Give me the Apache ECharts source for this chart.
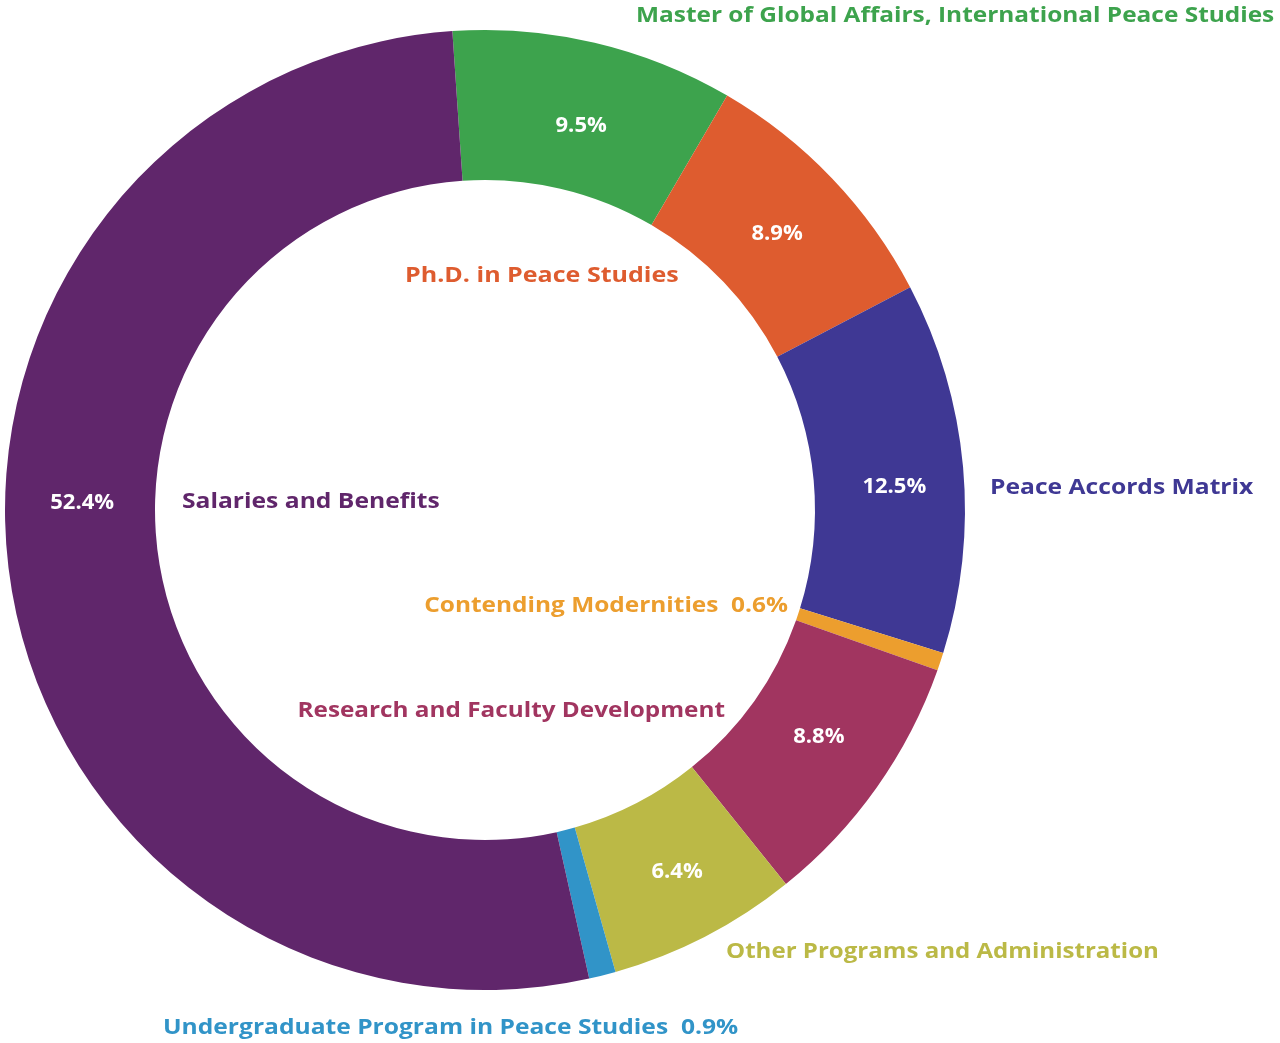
<!DOCTYPE html>
<html>
<head>
<meta charset="utf-8">
<style>
  html, body { margin: 0; padding: 0; background: #fff; }
  #chart { width: 1280px; height: 1043px; }
</style>
<script src="https://cdn.jsdelivr.net/npm/echarts@6/dist/echarts.min.js"></script>
</head>
<body>
<div id="chart"></div>
<script>
// budget shares, clockwise from the top
const categories = [
  'Master of Global Affairs, International Peace Studies',
  'Ph.D. in Peace Studies',
  'Peace Accords Matrix',
  'Contending Modernities',
  'Research and Faculty Development',
  'Other Programs and Administration',
  'Undergraduate Program in Peace Studies',
  'Salaries and Benefits'
];
const shares = [9.5, 8.9, 12.5, 0.6, 8.8, 6.4, 0.9, 52.4];
const colors = ['#3da34d', '#de5c2f', '#3f3894', '#ec9e2e', '#a13560', '#bbb946', '#3194c8', '#60266b'];

// slices too thin to carry their own percentage
const smallSlices = [3, 6];

const FONT = '"Open Sans"';

// nudges for the percentages inside the ring (hand placed in the original)
const pctNudge = [[3, 13], [-3, 6], [3, 13], [0, 0], [1, -9], [5, -1], [0, 0], [1, -66]];

// name labels placed freely around the ring; sx stretches to the original lettering
const nameLabels = [
  { i: 0, x: 636, y: 16, align: 'left', sx: 1.11, text: categories[0] },
  { i: 1, x: 405, y: 276, align: 'left', sx: 1.138, text: categories[1] },
  { i: 2, x: 990, y: 488, align: 'left', sx: 1.12, text: categories[2] },
  { i: 3, x: 788, y: 606, align: 'right', sx: 1.11, text: categories[3] + '  ' + shares[3] + '%' },
  { i: 4, x: 725, y: 711, align: 'right', sx: 1.105, text: categories[4] },
  { i: 5, x: 726, y: 952, align: 'left', sx: 1.094, text: categories[5] },
  { i: 6, x: 163, y: 1028, align: 'left', sx: 1.118, text: categories[6] + '  ' + shares[6] + '%' },
  { i: 7, x: 182, y: 502, align: 'left', sx: 1.12, text: categories[7] }
];

const chart = echarts.init(document.getElementById('chart'));

chart.setOption({
  animation: false,
  series: [
    {
      type: 'pie',
      center: [485, 510],
      radius: [330, 480],
      startAngle: 93.9,
      clockwise: true,
      avoidLabelOverlap: false,
      itemStyle: { borderWidth: 0 },
      emphasis: { disabled: true },
      label: {
        show: true,
        position: 'inside',
        color: '#fff',
        fontFamily: FONT,
        fontWeight: 'bold',
        fontSize: 22,
        formatter: p => p.value.toFixed(1) + '%'
      },
      labelLine: { show: false },
      labelLayout: p => ({ dx: pctNudge[p.dataIndex][0], dy: pctNudge[p.dataIndex][1] }),
      data: categories.map((name, i) => ({
        name: name,
        value: shares[i],
        itemStyle: { color: colors[i] },
        label: { show: smallSlices.indexOf(i) < 0 }
      }))
    }
  ],
  graphic: nameLabels.map(l => ({
    type: 'text',
    x: l.x,
    y: l.y,
    scaleX: l.sx,
    silent: true,
    style: {
      text: l.text,
      fill: colors[l.i],
      font: 'bold 22px ' + FONT,
      textAlign: l.align,
      textVerticalAlign: 'middle'
    }
  }))
});
</script>
</body>
</html>
